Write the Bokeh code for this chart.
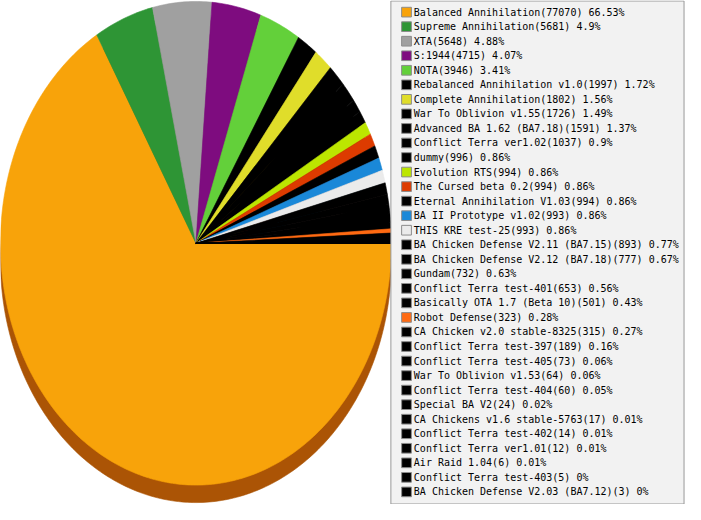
import numpy as np
from bokeh.plotting import figure
from bokeh.models import Range1d
from bokeh.core.properties import value
from bokeh.embed import file_html
from bokeh.resources import INLINE

names = [
    "Balanced Annihilation", "Supreme Annihilation", "XTA", "S:1944", "NOTA",
    "Rebalanced Annihilation v1.0", "Complete Annihilation", "War To Oblivion v1.55",
    "Advanced BA 1.62 (BA7.18)", "Conflict Terra ver1.02", "dummy", "Evolution RTS",
    "The Cursed beta 0.2", "Eternal Annihilation V1.03", "BA II Prototype v1.02",
    "THIS KRE test-25", "BA Chicken Defense V2.11 (BA7.15)",
    "BA Chicken Defense V2.12 (BA7.18)", "Gundam", "Conflict Terra test-401",
    "Basically OTA 1.7 (Beta 10)", "Robot Defense", "CA Chicken v2.0 stable-8325",
    "Conflict Terra test-397", "Conflict Terra test-405", "War To Oblivion v1.53",
    "Conflict Terra test-404", "Special BA V2", "CA Chickens v1.6 stable-5763",
    "Conflict Terra test-402", "Conflict Terra ver1.01", "Air Raid 1.04",
    "Conflict Terra test-403", "BA Chicken Defense V2.03 (BA7.12)",
]
counts = [77070, 5681, 5648, 4715, 3946, 1997, 1802, 1726, 1591, 1037, 996, 994,
          994, 994, 993, 993, 893, 777, 732, 653, 501, 323, 315, 189, 73, 64, 60,
          24, 17, 14, 12, 6, 5, 3]
percents = [66.53, 4.9, 4.88, 4.07, 3.41, 1.72, 1.56, 1.49, 1.37, 0.9, 0.86, 0.86,
            0.86, 0.86, 0.86, 0.86, 0.77, 0.67, 0.63, 0.56, 0.43, 0.28, 0.27, 0.16,
            0.06, 0.06, 0.05, 0.02, 0.01, 0.01, 0.01, 0.01, 0, 0]
colors = ["#F8A30A", "#2E9535", "#A0A0A0", "#7E0C7F", "#63D03A", "#000000",
          "#E0DD2A", "#000000", "#000000", "#000000", "#000000", "#BCE600",
          "#DD3B00", "#000000", "#1A88D8", "#EBEBEB", "#000000", "#000000",
          "#000000", "#000000", "#000000", "#FF6A12", "#000000", "#000000",
          "#000000", "#000000", "#000000", "#000000", "#000000", "#000000",
          "#000000", "#000000", "#000000", "#000000"]

labels = [f"{n}({c}) {p:g}%" for n, c, p in zip(names, counts, percents)]


def darken(h):
    r, g, b = int(h[1:3], 16), int(h[3:5], 16), int(h[5:7], 16)
    return "#%02X%02X%02X" % (int(r * 0.69), int(g * 0.52), int(b * 0.5))


side_colors = [darken(c) for c in colors]

# reference pixel space (y downwards)
W, H = 701, 520
CX, CY, RX, RY = 200, 250.5, 200, 249.5
DEPTH = 18

vals = np.array(counts, dtype=float)
frac = np.concatenate([[0], np.cumsum(vals) / vals.sum()])


def slice_poly(f0, f1, dy=0.0):
    n = max(2, int(np.ceil((f1 - f0) * 400)) + 1)
    th = np.linspace(2 * np.pi * f0, 2 * np.pi * f1, n)
    xs = np.concatenate([[CX], CX + RX * np.cos(th)])
    ys = np.concatenate([[CY + dy], CY + dy + RY * np.sin(th)])
    return list(xs), list(ys)


top_xs, top_ys, side_xs, side_ys = [], [], [], []
for i in range(len(vals)):
    xs, ys = slice_poly(frac[i], frac[i + 1])
    top_xs.append(xs)
    top_ys.append(ys)
    xs, ys = slice_poly(frac[i], frac[i + 1], DEPTH)
    side_xs.append(xs)
    side_ys.append(ys)

p = figure(width=685, height=504, x_range=Range1d(0, W), y_range=Range1d(H, 0),
           output_backend="svg", toolbar_location=None, min_border=0)
p.axis.visible = False
p.grid.visible = False
p.outline_line_color = None
p.background_fill_color = "white"

p.patches(side_xs, side_ys, fill_color=side_colors, line_color=side_colors,
          line_width=0.6)
p.patches(top_xs, top_ys, fill_color=colors, line_color=colors, line_width=0.6)

# legend box
p.quad(left=[399.5], right=[699.5], top=[0.5], bottom=[519.5],
       fill_color="#F2F2F2", line_color="#999999", line_width=1)

rows = np.arange(len(names))
row_y = 12 + 15 * rows
p.rect(x=[415.5] * len(rows), y=row_y, width=10, height=10,
       fill_color=colors, line_color="#8C8C8C", line_width=1)
p.text(x=[423] * len(rows), y=row_y, text=labels,
       text_font=value("DejaVu Sans Mono"), text_font_size="10px",
       text_baseline="middle", text_align="left", text_color="#000000")

open("out.html", "w").write(file_html(p, INLINE))
